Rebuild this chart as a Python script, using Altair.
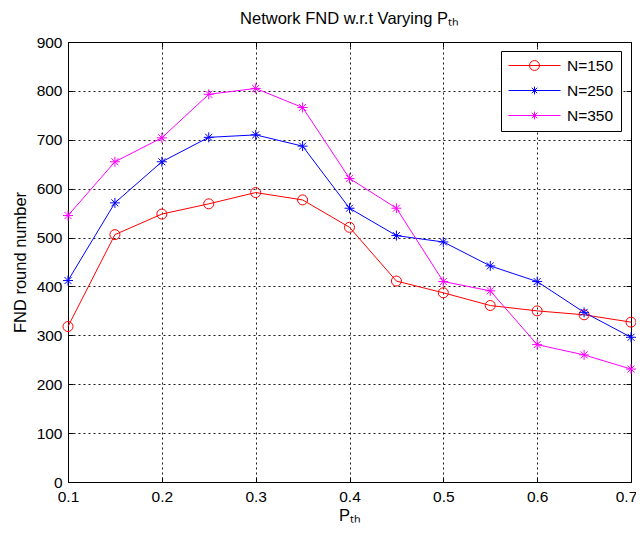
import altair as alt
import pandas as pd

# ---- data ----
p_th = [0.1, 0.15, 0.2, 0.25, 0.3, 0.35, 0.4, 0.45, 0.5, 0.55, 0.6, 0.65, 0.7]
fnd_150 = [318, 506, 548, 569, 592, 577, 521, 411, 387, 361, 350, 342, 327]
fnd_250 = [412, 571, 655, 705, 710, 687, 560, 504, 491, 442, 410, 347, 296]
fnd_350 = [545, 655, 704, 793, 805, 766, 621, 560, 410, 391, 281, 260, 231]
series = ["N=150", "N=250", "N=350"]
colors = ["#ff0000", "#0000ff", "#ff00ff"]
x_ticks = [0.1, 0.2, 0.3, 0.4, 0.5, 0.6, 0.7]
y_ticks = [0, 100, 200, 300, 400, 500, 600, 700, 800, 900]

rows = []
for name, vals in zip(series, [fnd_150, fnd_250, fnd_350]):
    for x, v in zip(p_th, vals):
        rows.append({"p": x, "fnd": v, "series": name})
df = pd.DataFrame(rows)

W, H = 563, 440
FONT = "Liberation Sans"

# marker shapes
AST = "M-1,0L1,0M0,-1L0,1M-0.7,-0.7L0.7,0.7M-0.7,0.7L0.7,-0.7"
r = 0.19
LEG_CIRCLE = f"M-1,0L1,0M{r},0A{r},{r},0,1,1,{-r},0A{r},{r},0,1,1,{r},0"
a, d = 0.15, 0.105
LEG_AST = f"M-1,0L1,0M0,{-a}L0,{a}M{-d},{-d}L{d},{d}M{-d},{d}L{d},{-d}"

xs = alt.Scale(domain=[0.1, 0.7], nice=False, zero=False)
ys = alt.Scale(domain=[0, 900], nice=False, zero=False)

grid_kw = dict(grid=True, gridDash=[2, 3], gridColor="#000000", gridOpacity=0.9, gridWidth=1)

main_x = alt.Axis(orient="bottom", values=x_ticks, format=".1f", tickSize=0, domain=False,
                  labelFont=FONT, labelFontSize=15.5, labelColor="black", labelPadding=7,
                  labelFlush=False, labelOffset={"expr": "datum.value > 0.65 ? -5 : 0"},
                  title="Pₜₕ", titleFont=FONT, titleFontSize=16.5,
                  titleFontWeight="normal", titleColor="black", titlePadding=3, **grid_kw)
main_y = alt.Axis(orient="left", values=y_ticks, format="d", tickSize=0, domain=False,
                  labelFont=FONT, labelFontSize=15.5, labelColor="black", labelPadding=6,
                  labelFlush=False, title="FND round number", titleFont=FONT, titleFontSize=16.5,
                  titleFontWeight="normal", titleColor="black", titlePadding=8, **grid_kw)

tick_kw = dict(labels=False, domain=False, grid=False, title=None, ticks=True,
               tickSize=5, tickColor="black", tickWidth=1)
top_ticks = alt.Axis(orient="bottom", offset=-H, values=x_ticks, **tick_kw)
bottom_ticks = alt.Axis(orient="top", offset=-H, values=x_ticks, **tick_kw)
right_ticks = alt.Axis(orient="left", offset=-W, values=y_ticks, **tick_kw)
left_ticks = alt.Axis(orient="right", offset=-W, values=y_ticks, **tick_kw)

base = alt.Chart(df)

lines = base.mark_line(strokeWidth=1).encode(
    x=alt.X("p:Q", scale=xs, axis=main_x),
    y=alt.Y("fnd:Q", scale=ys, axis=main_y),
    color=alt.Color("series:N", scale=alt.Scale(domain=series, range=colors), legend=None),
)

points = base.mark_point(filled=False, size=100, strokeWidth=1, opacity=1).encode(
    x=alt.X("p:Q", scale=xs, axis=top_ticks),
    y=alt.Y("fnd:Q", scale=ys, axis=right_ticks),
    color=alt.Color("series:N", scale=alt.Scale(domain=series, range=colors), legend=None),
    shape=alt.Shape("series:N", scale=alt.Scale(domain=series, range=["circle", AST, AST]), legend=None),
)

leg_kw = dict(orient="none", legendX=433, legendY=9, title=None, strokeColor="black",
              fillColor="white", padding=7, symbolSize=2704, symbolStrokeWidth=1,
              clipHeight=15, labelFont=FONT, labelFontSize=15.5, labelColor="black", labelOffset=6,
              rowPadding=9, cornerRadius=0)

legend_layer = base.transform_filter("false").mark_point(filled=False, size=2704, strokeWidth=1, opacity=1).encode(
    x=alt.X("p:Q", scale=xs, axis=bottom_ticks),
    y=alt.Y("fnd:Q", scale=ys, axis=left_ticks),
    color=alt.Color("series:N", scale=alt.Scale(domain=series, range=colors), legend=alt.Legend(**leg_kw)),
    shape=alt.Shape("series:N", scale=alt.Scale(domain=series, range=[LEG_CIRCLE, LEG_AST, LEG_AST]),
                    legend=alt.Legend(**leg_kw)),
)

chart = alt.layer(lines, points, legend_layer).resolve_scale(
    color="independent", shape="independent"
).resolve_axis(
    x="independent", y="independent"
).properties(
    width=W, height=H,
    padding={"left": 60, "top": 34, "right": 5, "bottom": 43},
    autosize=alt.AutoSizeParams(type="none"),
    background="white",
    title=alt.Title("Network FND w.r.t Varying Pₜₕ", font=FONT, fontSize=16.5, fontWeight="normal",
                    color="black", anchor="middle", baseline="bottom", offset=-8),
).configure_view(stroke="black", strokeWidth=1)

chart.save("out.html", embed_options={"renderer": "svg", "actions": False})
